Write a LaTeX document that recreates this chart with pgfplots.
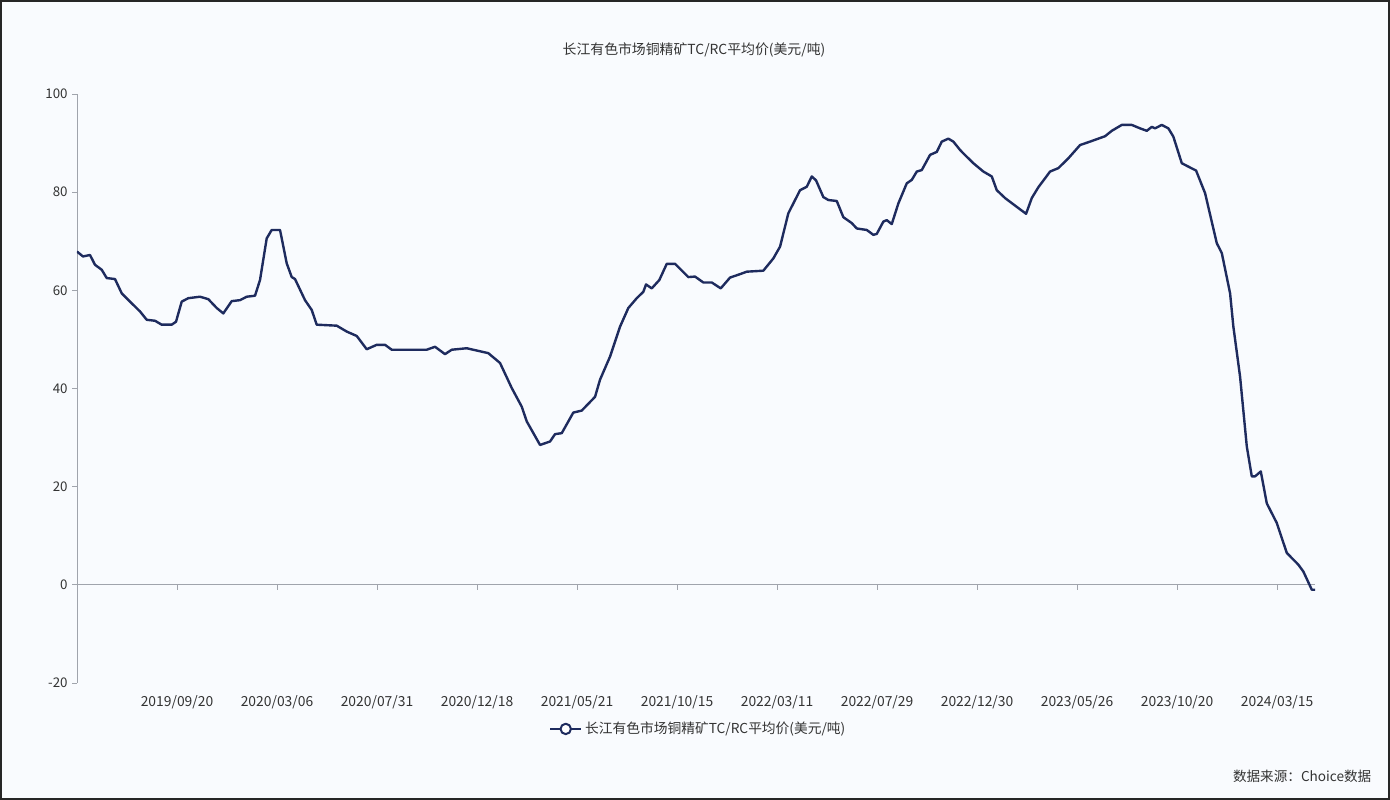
\documentclass[border=0pt]{standalone}
\usepackage{pgfplots}
\pgfplotsset{compat=1.18}
\usepackage{fontspec}
\setmainfont{Noto Sans CJK SC}
\definecolor{bgc}{HTML}{F9FBFE}
\definecolor{navy}{HTML}{1E2B5E}
\definecolor{txt}{HTML}{333333}
\definecolor{axc}{HTML}{A0A4AC}
\begin{document}
\begin{tikzpicture}
\begin{scope}[x=0.75pt,y=0.75pt]
\fill[bgc] (-77,-117) rectangle (1313,683);
\end{scope}
\begin{axis}[name=ax, at={(0,0)}, anchor=south west,
  scale only axis, width=928.5pt, height=441.75pt,
  xmin=0, xmax=297.1, ymin=-20, ymax=100,
  axis x line=middle, axis y line=left,
  x axis line style={-, draw=axc, line width=0.6pt},
  y axis line style={-, draw=axc, line width=0.6pt},
  tick align=outside, major tick length=3.5pt,
  tick style={draw=axc, line width=0.6pt},
  xtick={24,48,72,96,120,144,168,192,216,240,264,288},
  xticklabels={2019/09/20,2020/03/06,2020/07/31,2020/12/18,2021/05/21,2021/10/15,2022/03/11,2022/07/29,2022/12/30,2023/05/26,2023/10/20,2024/03/15},
  xticklabel style={yshift=-76pt, font=\fontsize{10.4}{12}\selectfont, text=txt},
  ytick={-20,0,20,40,60,80,100},
  yticklabel style={font=\fontsize{10}{12}\selectfont, text=txt},
  /pgf/number format/assume math mode=true,
  legend style={at={(0.502,-0.078)}, anchor=center, draw=none, fill=none,
    font=\fontsize{10.3}{12}\selectfont, text=txt},
  legend image code/.code={\draw[navy, line width=1.8pt] (-0.1cm,0cm) -- (0.72cm,0cm);
    \draw[navy, line width=1.5pt, fill=white] (0.31cm,0cm) circle (3.9pt);},
]
\addplot[navy, line width=1.8pt, line join=round] coordinates {
(0,67.9) (1.44,66.9) (3.12,67.2) (4.32,65.2) (5.93,64.2) (7.13,62.5) (9.12,62.3)
(10.73,59.4) (12.72,57.7) (15.12,55.7) (16.73,54.0) (18.72,53.8) (20.33,53.0)
(22.73,53.0) (23.76,53.6) (25.13,57.7) (26.71,58.4) (29.52,58.7) (31.51,58.2)
(33.53,56.4) (35.11,55.3) (37.13,57.8) (39.12,58.0) (40.73,58.7) (42.72,58.9)
(43.92,62.1) (45.53,70.6) (46.73,72.3) (48.72,72.3) (50.33,65.5) (51.53,62.7)
(52.32,62.3) (54.72,58.0) (56.33,56.0) (57.53,53.0) (62.33,52.8) (64.73,51.6)
(67.13,50.7) (69.53,48.0) (71.93,48.9) (73.92,48.9) (75.53,47.9) (83.93,47.9)
(85.92,48.5) (88.32,47.0) (89.93,47.9) (93.53,48.2) (98.71,47.2) (101.52,45.2)
(104.33,40.1) (106.73,36.3) (107.93,33.3) (111.12,28.5) (113.52,29.2) (114.72,30.7)
(116.33,30.9) (119.11,35.1) (121.13,35.5) (124.32,38.3) (125.52,41.8) (127.92,46.5)
(130.32,52.6) (132.31,56.4) (134.33,58.4) (135.91,59.7) (136.56,61.2) (137.93,60.4)
(139.75,62.1) (141.53,65.4) (143.52,65.4) (146.71,62.7) (148.32,62.8) (150.31,61.6)
(152.33,61.6) (154.49,60.4) (156.72,62.6) (159.12,63.3) (160.73,63.8) (164.71,64.0)
(167.11,66.5) (168.72,68.9) (170.71,75.7) (173.52,80.4) (175.13,81.1) (176.33,83.2)
(177.36,82.4) (179.11,79.0) (180.31,78.4) (182.33,78.2) (183.91,74.9) (185.93,73.7)
(187.13,72.6) (189.53,72.3) (191.11,71.3) (191.93,71.5) (193.51,74.0) (194.33,74.3)
(195.53,73.5) (197.11,77.7) (199.13,81.8) (200.33,82.5) (201.53,84.2) (202.73,84.5)
(204.72,87.6) (206.33,88.2) (207.53,90.3) (209.11,90.9) (210.31,90.3) (211.92,88.6)
(212.71,87.9) (215.11,85.9) (217.51,84.2) (219.53,83.2) (220.73,80.4) (222.72,78.8)
(225.53,77.0) (227.76,75.6) (229.13,78.8) (230.71,81.0) (233.52,84.2) (235.51,84.9)
(237.91,86.9) (240.72,89.6) (243.12,90.3) (246.72,91.4) (248.33,92.5) (250.73,93.7)
(253.13,93.7) (255.12,93.0) (256.73,92.5) (257.93,93.3) (258.72,93.0) (260.33,93.7)
(261.91,93.0) (263.11,91.3) (265.13,85.9) (266.71,85.2) (268.56,84.4) (270.72,79.8)
(273.53,69.6) (274.73,67.6) (276.72,59.4) (277.51,52.6) (279.12,42.4) (280.73,28.2)
(281.93,22.1) (282.72,22.1) (284.09,23.1) (285.53,16.6) (287.93,12.6) (290.33,6.5)
(293.11,4.1) (294.31,2.7) (296.33,-1.0) (297.1,-1.0)
};
\addlegendentry{长江有色市场铜精矿TC/RC平均价(美元/吨)}
\end{axis}
\begin{scope}[x=0.75pt,y=0.75pt]
\node[text=txt, font=\fontsize{10.4}{12}\selectfont] at (617,633) {长江有色市场铜精矿TC/RC平均价(美元/吨)};
\node[text=txt, font=\fontsize{10.2}{12}\selectfont, anchor=east] at (1299,-93) {数据来源：Choice数据};
\draw[black!85, line width=1.2pt] (-76.2,-116.2) rectangle (1312.2,682.2);
\end{scope}
\end{tikzpicture}
\end{document}
